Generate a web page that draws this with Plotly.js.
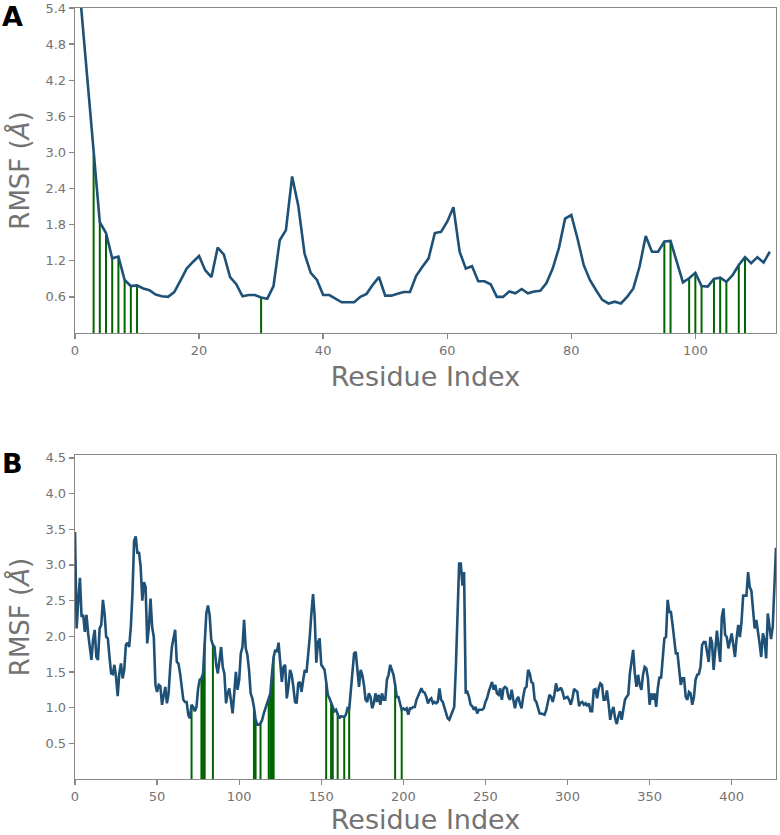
<!DOCTYPE html>
<html><head><meta charset="utf-8">
<script src="https://cdn.plot.ly/plotly-3.0.1.min.js"></script>
<style>html,body{margin:0;padding:0;background:#fff;}#chart{width:780px;height:835px;}</style>
</head><body><div id="chart"></div>
<script>
// ---------- Panel A data ----------
const resA = [];
for (let i = 1; i <= 112; i++) resA.push(i);
const rmsfA = [5.40,4.20,2.95,1.84,1.66,1.24,1.27,0.88,0.78,0.79,
  0.74,0.71,0.64,0.61,0.60,0.68,0.87,1.07,1.18,1.28,
  1.04,0.93,1.42,1.30,0.93,0.81,0.61,0.63,0.63,0.59,
  0.57,0.78,1.54,1.71,2.60,2.11,1.32,1.00,0.88,0.63,
  0.63,0.57,0.51,0.51,0.51,0.60,0.65,0.80,0.93,0.62,
  0.62,0.65,0.68,0.68,0.95,1.10,1.24,1.66,1.68,1.85,
  2.09,1.35,1.07,1.11,0.86,0.86,0.81,0.60,0.60,0.69,
  0.66,0.73,0.66,0.69,0.70,0.83,1.07,1.41,1.90,1.96,
  1.57,1.13,0.88,0.71,0.55,0.49,0.52,0.49,0.60,0.74,
  1.10,1.61,1.35,1.35,1.52,1.53,1.18,0.84,0.91,1.00,
  0.78,0.77,0.90,0.92,0.85,0.96,1.13,1.26,1.16,1.26,
  1.17,1.35];
const stemsA = [3,4,5,6,7,8,9,10,30,95,96,99,100,101,103,104,105,107,108];

// ---------- Panel B data ----------
const resB = [
  0,1,2,3,4,5,6,7,8,9,10,11,12,13,14,15,16,17,18,19,
  20,21,22,23,24,25,26,27,28,29,30,31,32,33,34,35,36,37,38,39,
  40,41,42,43,44,45,46,47,48,49,50,51,52,53,54,55,56,57,58,59,
  60,61,62,63,64,65,66,67,68,69,70,71,72,73,74,75,76,77,78,79,
  80,81,82,83,84,85,86,87,88,89,90,91,92,93,94,95,96,97,98,99,
  100,101,102,103,104,105,106,107,108,109,110,111,112,113,114,115,116,117,118,119,
  120,121,122,123,124,125,126,127,128,129,130,131,132,133,134,135,136,137,
  138,139,140,141,142,143,144,145,146,147,148,149,150,151,152,153,154,155,156,157,
  158,159,160,161,162,163,164,165,166,167,168,169,170,171,172,173,174,175,176,177,
  178,179,180,181,182,183,184,185,186,187,188,189,190,191,192,193,194,195,196,197,
  198,199,200,201,202,203,204,205,206,207,208,210,211,212,213,214,215,216,217,218,
  219,220,221,222,223,224,225,226,227,228,229,230,231,232,233,234,235,236,237,238,
  239,240,241,242,243,244,245,246,248,249,250,251,252,253,254,255,256,257,258,259,
  260,261,262,263,264,265,266,267,268,269,270,271,272,273,274,275,276,277,278,279,
  280,281,282,283,285,286,287,288,289,290,291,292,293,294,295,296,297,298,299,300,
  301,302,303,304,305,306,307,308,309,310,311,312,313,314,315,316,317,318,319,320,
  321,322,323,324,325,326,327,328,329,330,331,332,333,334,335,336,337,338,339,340,
  341,342,343,344,345,346,347,348,349,350,351,352,353,354,355,356,357,358,359,360,
  361,362,363,364,365,366,367,368,369,370,371,372,373,374,375,376,377,378,379,380,
  381,382,383,384,385,386,387,388,389,390,391,392,393,394,395,396,397,398,399,400,
  401,402,403,404,405,406,407,409,410,411,412,413,414,415,416,417,418,419,420,421,
  422,423,424,425,426,427];
const rmsfB = [
  3.46,2.11,2.50,2.82,2.27,2.30,2.06,2.30,2.04,1.80,1.67,1.95,2.09,1.71,1.67,2.11,2.16,2.51,2.32,1.99,
  1.97,1.71,1.48,1.47,1.60,1.43,1.16,1.48,1.62,1.41,1.53,1.88,1.91,1.85,2.13,2.60,3.34,3.40,3.16,3.18,
  2.97,2.50,2.76,2.69,1.90,2.13,2.53,2.13,1.99,1.32,1.22,1.32,1.30,1.04,1.20,1.29,1.06,1.20,1.57,1.85,
  1.97,2.09,1.64,1.62,1.48,1.29,1.11,1.08,1.08,0.90,0.85,1.04,1.01,0.95,1.01,1.27,1.39,1.41,1.48,1.90,
  2.32,2.43,2.30,1.95,1.88,1.85,1.60,1.48,1.64,1.85,1.57,1.48,1.06,1.20,1.27,1.11,0.92,1.20,1.50,1.25,
  1.39,1.76,1.85,2.23,1.83,1.74,1.53,1.20,1.13,1.01,0.83,0.76,0.76,0.78,0.83,0.92,0.99,1.04,1.11,1.20,
  1.48,1.71,1.81,1.78,1.91,1.62,1.36,1.57,1.60,1.13,1.29,1.53,1.46,1.29,1.08,1.06,1.34,1.36,
  1.22,1.39,1.53,1.49,1.71,1.99,2.32,2.59,2.27,1.63,1.92,1.97,1.60,1.57,1.53,1.36,1.18,1.13,1.06,0.99,
  0.95,0.97,0.92,0.85,0.88,0.88,0.87,0.90,0.99,0.97,1.25,1.53,1.76,1.78,1.53,1.29,1.53,1.46,1.32,1.11,
  1.08,1.20,1.15,0.99,1.06,1.20,1.08,1.18,1.04,1.20,1.11,1.11,1.39,1.46,1.60,1.53,1.46,1.32,1.15,1.15,
  1.06,0.97,0.99,0.97,0.99,0.90,0.99,0.99,1.01,1.01,1.11,1.21,1.27,1.22,1.21,1.15,1.06,1.11,1.13,1.06,
  1.08,1.06,1.08,1.27,1.11,1.08,0.99,0.90,0.85,0.83,0.90,0.97,1.01,1.57,2.32,3.02,3.02,2.71,2.90,1.20,
  1.22,1.15,1.04,1.02,0.97,1.01,0.92,0.97,0.97,0.99,1.08,1.13,1.22,1.29,1.36,1.25,1.32,1.20,1.18,1.27,
  1.11,1.27,1.29,1.27,1.15,1.11,1.25,1.11,0.99,1.11,1.15,1.06,0.99,1.15,1.27,1.29,1.53,1.48,1.36,1.34,
  1.11,1.08,1.01,0.92,0.91,0.90,0.96,1.06,1.18,1.15,1.08,1.18,1.34,1.24,1.25,1.28,1.22,1.13,1.14,1.15,
  1.11,1.04,1.13,1.26,1.24,1.22,1.02,1.07,1.08,1.04,1.06,1.02,1.06,0.95,0.95,1.25,1.26,1.13,1.27,1.34,
  1.32,1.11,1.11,1.24,1.06,0.83,0.95,1.01,0.85,0.77,0.88,0.95,0.83,0.95,1.11,1.15,1.18,1.48,1.64,1.81,
  1.48,1.29,1.46,1.32,1.25,1.46,1.57,1.55,1.41,1.04,1.20,1.11,1.20,1.01,1.27,1.43,1.41,1.64,1.97,1.99,
  2.51,2.34,2.34,2.16,1.95,1.76,1.76,1.57,1.32,1.41,1.41,1.15,1.11,1.22,1.20,1.04,1.15,1.39,1.46,1.47,
  1.57,1.88,1.92,1.92,1.76,1.64,1.99,1.92,1.53,1.76,2.08,1.85,1.64,2.27,2.39,2.02,1.99,1.83,1.92,2.04,
  1.88,1.71,1.97,2.16,1.99,2.20,2.57,2.57,2.90,2.69,2.64,2.32,2.11,2.23,2.09,1.90,1.71,2.04,1.95,1.69,
  2.32,2.13,1.96,2.13,2.78,3.24];
const stemsB = [71,77,78,79,84,109,110,113,118,119,120,121,153,156,157,160,164,167,195,199];

const ticksAx = [0,20,40,60,80,100];
const ticksAy = [0.6,1.2,1.8,2.4,3.0,3.6,4.2,4.8,5.4];
const ticksBx = [0,50,100,150,200,250,300,350,400];
const ticksBy = [0.5,1.0,1.5,2.0,2.5,3.0,3.5,4.0,4.5];

function stems(res, vals, list) {
  const sx = [], sy = [];
  list.forEach(r => {
    const i = res.indexOf(r);
    if (i >= 0) { sx.push(r, r, null); sy.push(0, vals[i], null); }
  });
  return {sx, sy};
}
const sA = stems(resA, rmsfA, stemsA);
const sB = stems(resB, rmsfB, stemsB);

const lineCol = '#1f5177';
const green = '#006400';
const traces = [
  {x: sA.sx, y: sA.sy, xaxis: 'x', yaxis: 'y', mode: 'lines', line: {color: green, width: 2}, hoverinfo: 'skip'},
  {x: resA, y: rmsfA, xaxis: 'x', yaxis: 'y', mode: 'lines', line: {color: lineCol, width: 2.6}},
  {x: sB.sx, y: sB.sy, xaxis: 'x2', yaxis: 'y2', mode: 'lines', line: {color: green, width: 2}, hoverinfo: 'skip'},
  {x: resB, y: rmsfB, xaxis: 'x2', yaxis: 'y2', mode: 'lines', line: {color: lineCol, width: 2.6}}
];

const fontFam = 'DejaVu Sans, sans-serif';
const axCommon = {
  showline: true, mirror: true, linecolor: '#888', linewidth: 1.3,
  ticks: 'outside', ticklen: 5, tickwidth: 1.3, tickcolor: '#888',
  tickfont: {family: fontFam, size: 13, color: '#737373'},
  showgrid: false, zeroline: false, automargin: false
};
const xTitle = {text: 'Residue Index', font: {family: fontFam, size: 27, color: '#737373'}, standoff: 10};
const yTitle = {text: 'RMSF (<i>Å</i>)', font: {family: fontFam, size: 26, color: '#737373'}, standoff: 8};

const layout = {
  width: 780, height: 835,
  margin: {l: 75, r: 4, t: 8, b: 56},
  paper_bgcolor: '#fff', plot_bgcolor: '#fff',
  showlegend: false,
  xaxis: Object.assign({}, axCommon, {domain: [0, 1], anchor: 'y', range: [0, 113], tickvals: ticksAx, title: xTitle}),
  yaxis: Object.assign({}, axCommon, {domain: [0.5785, 1], anchor: 'x', range: [0, 5.4], tickvals: ticksAy, tickformat: '.1f', title: yTitle}),
  xaxis2: Object.assign({}, axCommon, {domain: [0, 1], anchor: 'y2', range: [0, 427], tickvals: ticksBx, title: xTitle}),
  yaxis2: Object.assign({}, axCommon, {domain: [0, 0.4202], anchor: 'x2', range: [0, 4.54], tickvals: ticksBy, tickformat: '.1f', title: yTitle}),
  annotations: [
    {text: '<b>A</b>', xref: 'paper', yref: 'paper', x: -0.107, y: 1.012, xanchor: 'left', yanchor: 'top', showarrow: false,
     font: {family: 'DejaVu Sans, sans-serif', size: 27, color: '#000'}},
    {text: '<b>B</b>', xref: 'paper', yref: 'paper', x: -0.107, y: 0.432, xanchor: 'left', yanchor: 'top', showarrow: false,
     font: {family: 'DejaVu Sans, sans-serif', size: 27, color: '#000'}}
  ]
};
Plotly.newPlot('chart', traces, layout, {displayModeBar: false, staticPlot: true});
</script></body></html>
